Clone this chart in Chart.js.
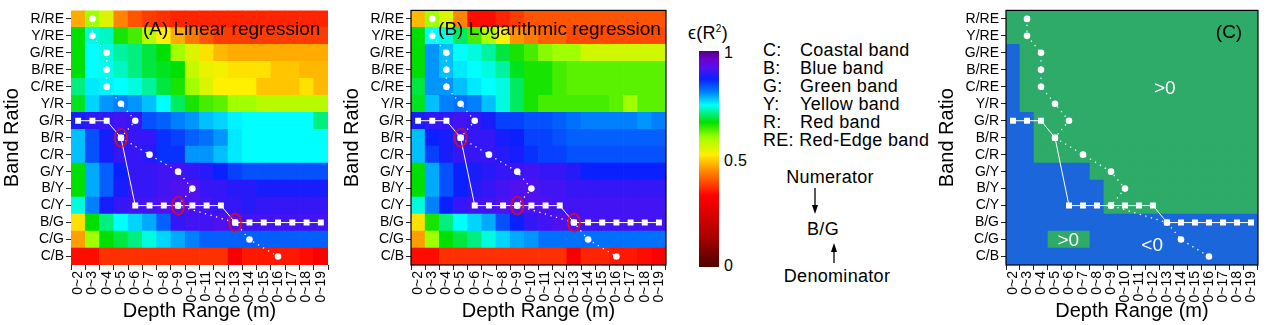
<!DOCTYPE html>
<html>
<head>
<meta charset="utf-8">
<script src="https://cdn.jsdelivr.net/npm/chart.js@4.4.1/dist/chart.umd.min.js"></script>
<style>
  body { margin: 0; background: #fff; font-family: Arial, "Liberation Sans", sans-serif; }
  #wrap { position: relative; width: 1269px; height: 325px; overflow: hidden; }
  canvas { position: absolute; top: 0; }
  .t { position: absolute; white-space: nowrap; color: #000; font-size: 18px; letter-spacing: 0.3px; line-height: 18px; transform: translateY(-50%); }
  .c { transform: translate(-50%, -50%); }
</style>
</head>
<body>
<div id="wrap">
  <canvas id="cA" width="340" height="325" style="left:0"></canvas>
  <canvas id="cB" width="340" height="325" style="left:340px"></canvas>
  <canvas id="cC" width="334" height="325" style="left:935px"></canvas>
  <div id="cbar" style="position:absolute;left:699px;top:51px;width:20px;height:216px"></div>
  <div class="t c" style="left:708px;top:31px">&#1013;(R<sup style="font-size:10px">2</sup>)</div>
  <div class="t" style="left:724px;top:53px;font-size:16px">1</div>
  <div class="t" style="left:724px;top:161px;font-size:16px">0.5</div>
  <div class="t" style="left:724px;top:266px;font-size:16px">0</div>
  <div id="legend"></div>
  <div class="t c" style="left:830px;top:177px">Numerator</div>
  <div class="t c" style="left:823px;top:229px">B/G</div>
  <div class="t c" style="left:837px;top:276px">Denominator</div>
  <svg style="position:absolute;left:0;top:0" width="1269" height="325">
    <line x1="815" y1="188" x2="815" y2="207" stroke="#000" stroke-width="1.3"/>
    <polygon points="812,205 818,205 815,214" fill="#000"/>
    <line x1="834" y1="250" x2="834" y2="263" stroke="#000" stroke-width="1.3"/>
    <polygon points="831,252 837,252 834,243" fill="#000"/>
  </svg>
</div>
<script>
// band ratios, top row first
const ratios = ['R/RE', 'Y/RE', 'G/RE', 'B/RE', 'C/RE', 'Y/R', 'G/R', 'B/R', 'C/R', 'G/Y', 'B/Y', 'C/Y', 'B/G', 'C/G', 'C/B'];
const depths = ['0~2', '0~3', '0~4', '0~5', '0~6', '0~7', '0~8', '0~9', '0~10', '0~11', '0~12', '0~13', '0~14', '0~15', '0~16', '0~17', '0~18', '0~19'];

// best depth range for each band ratio (white circles)
const bestDepth = ['0~3', '0~3', '0~4', '0~4', '0~4', '0~5', '0~6', '0~5', '0~7', '0~9', '0~10', '0~9', '0~13', '0~14', '0~16'];
// best band ratio for each depth range (white squares)
const bestRatio = ['G/R', 'G/R', 'G/R', 'B/R', 'C/Y', 'C/Y', 'C/Y', 'C/Y', 'C/Y', 'C/Y', 'C/Y', 'B/G', 'B/G', 'B/G', 'B/G', 'B/G', 'B/G', 'B/G'];

// (A) linear regression, rows follow ratios
const linR2 = [
  [0.47, 0.60, 0.55, 0.44, 0.40, 0.38, 0.37, 0.36, 0.36, 0.36, 0.36, 0.36, 0.36, 0.36, 0.36, 0.36, 0.36, 0.36],
  [0.67, 0.74, 0.73, 0.66, 0.64, 0.58, 0.52, 0.47, 0.43, 0.40, 0.38, 0.38, 0.38, 0.38, 0.38, 0.38, 0.38, 0.38],
  [0.67, 0.75, 0.74, 0.72, 0.71, 0.69, 0.67, 0.60, 0.55, 0.51, 0.48, 0.47, 0.47, 0.47, 0.47, 0.47, 0.47, 0.47],
  [0.67, 0.75, 0.745, 0.73, 0.71, 0.69, 0.68, 0.67, 0.57, 0.54, 0.53, 0.51, 0.51, 0.51, 0.49, 0.49, 0.48, 0.48],
  [0.71, 0.76, 0.755, 0.75, 0.74, 0.72, 0.69, 0.66, 0.60, 0.55, 0.52, 0.52, 0.52, 0.49, 0.49, 0.49, 0.51, 0.48],
  [0.68, 0.77, 0.80, 0.81, 0.80, 0.78, 0.75, 0.70, 0.66, 0.64, 0.63, 0.60, 0.60, 0.58, 0.58, 0.58, 0.58, 0.58],
  [0.88, 0.90, 0.90, 0.91, 0.90, 0.84, 0.83, 0.81, 0.80, 0.78, 0.77, 0.755, 0.75, 0.75, 0.75, 0.75, 0.75, 0.71],
  [0.78, 0.84, 0.88, 0.90, 0.90, 0.90, 0.86, 0.85, 0.83, 0.82, 0.80, 0.76, 0.75, 0.75, 0.75, 0.75, 0.75, 0.75],
  [0.78, 0.84, 0.88, 0.90, 0.90, 0.89, 0.86, 0.86, 0.80, 0.80, 0.78, 0.76, 0.75, 0.75, 0.75, 0.75, 0.75, 0.75],
  [0.67, 0.79, 0.83, 0.87, 0.90, 0.90, 0.91, 0.91, 0.90, 0.89, 0.87, 0.85, 0.84, 0.84, 0.84, 0.84, 0.84, 0.84],
  [0.67, 0.79, 0.83, 0.88, 0.90, 0.90, 0.91, 0.92, 0.92, 0.90, 0.90, 0.89, 0.89, 0.88, 0.88, 0.88, 0.88, 0.88],
  [0.74, 0.81, 0.88, 0.90, 0.91, 0.91, 0.92, 0.92, 0.92, 0.91, 0.90, 0.90, 0.89, 0.90, 0.90, 0.90, 0.90, 0.90],
  [0.51, 0.67, 0.71, 0.75, 0.77, 0.79, 0.83, 0.90, 0.91, 0.91, 0.92, 0.92, 0.91, 0.91, 0.91, 0.91, 0.91, 0.91],
  [0.46, 0.60, 0.67, 0.69, 0.71, 0.74, 0.77, 0.79, 0.81, 0.83, 0.83, 0.83, 0.83, 0.83, 0.83, 0.83, 0.83, 0.83],
  [0.34, 0.34, 0.37, 0.37, 0.37, 0.37, 0.37, 0.37, 0.37, 0.37, 0.37, 0.31, 0.35, 0.35, 0.35, 0.35, 0.34, 0.32]
];

// (B) logarithmic regression
const logR2 = [
  [0.48, 0.60, 0.55, 0.44, 0.34, 0.34, 0.36, 0.38, 0.40, 0.40, 0.40, 0.40, 0.40, 0.40, 0.40, 0.40, 0.40, 0.40],
  [0.67, 0.75, 0.74, 0.70, 0.64, 0.59, 0.52, 0.45, 0.43, 0.41, 0.41, 0.39, 0.39, 0.39, 0.39, 0.39, 0.39, 0.39],
  [0.67, 0.80, 0.78, 0.75, 0.74, 0.72, 0.69, 0.66, 0.64, 0.61, 0.60, 0.60, 0.56, 0.56, 0.56, 0.56, 0.56, 0.56],
  [0.67, 0.80, 0.78, 0.76, 0.75, 0.74, 0.72, 0.68, 0.66, 0.66, 0.64, 0.63, 0.63, 0.63, 0.63, 0.63, 0.63, 0.63],
  [0.69, 0.80, 0.80, 0.78, 0.76, 0.75, 0.74, 0.70, 0.66, 0.66, 0.64, 0.63, 0.63, 0.63, 0.63, 0.63, 0.63, 0.63],
  [0.68, 0.78, 0.81, 0.82, 0.81, 0.78, 0.74, 0.70, 0.66, 0.64, 0.64, 0.64, 0.64, 0.64, 0.63, 0.60, 0.63, 0.63],
  [0.88, 0.90, 0.90, 0.91, 0.90, 0.88, 0.85, 0.85, 0.84, 0.84, 0.83, 0.82, 0.81, 0.81, 0.81, 0.81, 0.80, 0.81],
  [0.78, 0.87, 0.88, 0.90, 0.90, 0.90, 0.88, 0.87, 0.85, 0.85, 0.84, 0.83, 0.83, 0.83, 0.83, 0.83, 0.83, 0.83],
  [0.78, 0.85, 0.88, 0.90, 0.90, 0.90, 0.89, 0.88, 0.86, 0.85, 0.85, 0.84, 0.84, 0.84, 0.84, 0.84, 0.84, 0.84],
  [0.67, 0.79, 0.84, 0.87, 0.88, 0.89, 0.90, 0.90, 0.91, 0.90, 0.90, 0.89, 0.87, 0.87, 0.87, 0.87, 0.87, 0.87],
  [0.67, 0.79, 0.84, 0.87, 0.89, 0.90, 0.91, 0.92, 0.92, 0.91, 0.91, 0.90, 0.90, 0.90, 0.90, 0.90, 0.90, 0.90],
  [0.74, 0.81, 0.87, 0.90, 0.91, 0.91, 0.92, 0.92, 0.92, 0.92, 0.91, 0.91, 0.91, 0.91, 0.91, 0.91, 0.91, 0.91],
  [0.51, 0.66, 0.71, 0.75, 0.77, 0.79, 0.84, 0.87, 0.90, 0.91, 0.92, 0.92, 0.91, 0.91, 0.91, 0.91, 0.91, 0.91],
  [0.46, 0.60, 0.67, 0.69, 0.71, 0.74, 0.77, 0.79, 0.80, 0.82, 0.82, 0.82, 0.82, 0.82, 0.82, 0.82, 0.82, 0.82],
  [0.34, 0.34, 0.37, 0.37, 0.37, 0.37, 0.37, 0.37, 0.37, 0.37, 0.37, 0.31, 0.36, 0.36, 0.35, 0.35, 0.34, 0.33]
];

// (C) sign of the difference (1 = >0, -1 = <0)
const diffSign = [
  [1, 1, 1, 1, 1, 1, 1, 1, 1, 1, 1, 1, 1, 1, 1, 1, 1, 1],
  [1, 1, 1, 1, 1, 1, 1, 1, 1, 1, 1, 1, 1, 1, 1, 1, 1, 1],
  [-1, 1, 1, 1, 1, 1, 1, 1, 1, 1, 1, 1, 1, 1, 1, 1, 1, 1],
  [-1, 1, 1, 1, 1, 1, 1, 1, 1, 1, 1, 1, 1, 1, 1, 1, 1, 1],
  [-1, 1, 1, 1, 1, 1, 1, 1, 1, 1, 1, 1, 1, 1, 1, 1, 1, 1],
  [-1, 1, 1, 1, 1, 1, 1, 1, 1, 1, 1, 1, 1, 1, 1, 1, 1, 1],
  [-1, -1, 1, 1, 1, 1, 1, 1, 1, 1, 1, 1, 1, 1, 1, 1, 1, 1],
  [-1, -1, 1, 1, 1, 1, 1, 1, 1, 1, 1, 1, 1, 1, 1, 1, 1, 1],
  [-1, -1, 1, 1, 1, 1, 1, 1, 1, 1, 1, 1, 1, 1, 1, 1, 1, 1],
  [-1, -1, -1, -1, -1, -1, 1, 1, 1, 1, 1, 1, 1, 1, 1, 1, 1, 1],
  [-1, -1, -1, -1, -1, -1, -1, 1, 1, 1, 1, 1, 1, 1, 1, 1, 1, 1],
  [-1, -1, -1, -1, -1, -1, -1, 1, 1, 1, 1, 1, 1, 1, 1, 1, 1, 1],
  [-1, -1, -1, -1, -1, -1, -1, -1, -1, -1, -1, -1, -1, -1, -1, -1, -1, -1],
  [-1, -1, -1, 1, 1, 1, -1, -1, -1, -1, -1, -1, -1, -1, -1, -1, -1, -1],
  [-1, -1, -1, -1, -1, -1, -1, -1, -1, -1, -1, -1, -1, -1, -1, -1, -1, -1]
];

const bandKeys = ['C:', 'B:', 'G:', 'Y:', 'R:', 'RE:'];
const bandNames = ['Coastal band', 'Blue band', 'Green band', 'Yellow band', 'Red band', 'Red-Edge band'];

// rainbow colour map
const cmapStops = [0, 0.15, 0.33, 0.45, 0.52, 0.60, 0.67, 0.75, 0.81, 0.87, 0.92, 0.96, 1];
const cmapColors = ['#500000', '#b00000', '#ff0000', '#ff9000', '#ffef00', '#a0ff00', '#00e000', '#00ffff', '#0080ff', '#0a20ff', '#5010f0', '#7000d0', '#500080'];

const hex = (h) => [1, 3, 5].map((i) => parseInt(h.substr(i, 2), 16));
function cmap(v) {
  for (let i = 1; i < cmapStops.length; i++) {
    if (v <= cmapStops[i]) {
      const t = (v - cmapStops[i - 1]) / (cmapStops[i] - cmapStops[i - 1]);
      const a = hex(cmapColors[i - 1]), b = hex(cmapColors[i]);
      const c = a.map((x, k) => Math.round(x + (b[k] - x) * t));
      return 'rgb(' + c.join(',') + ')';
    }
  }
  return cmapColors[cmapColors.length - 1];
}
const signColor = (s) => (s > 0 ? '#2eaa69' : '#1c66dc');

// colour bar and legend text
document.getElementById('cbar').style.background =
  'linear-gradient(to top,' + cmapStops.map((s, i) => cmapColors[i] + ' ' + s * 100 + '%').join(',') + ')';
const leg = document.getElementById('legend');
bandKeys.forEach((k, i) => {
  const y = 50 + i * 18;
  if (k === 'RE:') {
    leg.innerHTML += '<div class="t" style="left:763px;top:' + y + 'px">' + k + ' ' + bandNames[i] + '</div>';
  } else {
    leg.innerHTML += '<div class="t" style="left:763px;top:' + y + 'px">' + k + '</div>' +
      '<div class="t" style="left:800px;top:' + y + 'px">' + bandNames[i] + '</div>';
  }
});

const rowY = (r) => ratios.length - 1 - r + 0.5;

function ellipseMarker() {
  const c = document.createElement('canvas');
  c.width = 16; c.height = 22;
  const g = c.getContext('2d');
  g.strokeStyle = '#e0101e';
  g.lineWidth = 1.7;
  g.beginPath();
  g.ellipse(8, 11, 6, 9, 0, 0, Math.PI * 2);
  g.stroke();
  return c;
}

const panelDeco = {
  id: 'panelDeco',
  afterDatasetsDraw(chart, args, opts) {
    const { ctx, chartArea: a } = chart;
    ctx.save();
    if (opts.border) {
      ctx.strokeStyle = '#000';
      ctx.lineWidth = 1.2;
      ctx.strokeRect(a.left, a.top, a.width, a.height);
    }
    (opts.texts || []).forEach((t) => {
      ctx.font = '19px Arial, "Liberation Sans", sans-serif';
      ctx.fillStyle = t.color;
      ctx.textAlign = 'center';
      ctx.textBaseline = 'middle';
      ctx.fillText(t.text, a.left + t.fx * a.width, a.top + t.fy * a.height);
    });
    ctx.restore();
  }
};

function heatChart(id, matrix, colorFn, showRed, deco) {
  const datasets = [];
  for (let r = ratios.length - 1; r >= 0; r--) {
    datasets.push({
      type: 'bar',
      label: ratios[r],
      data: depths.map(() => 1),
      backgroundColor: matrix[r].map(colorFn),
      borderWidth: 0,
      barPercentage: 1,
      categoryPercentage: 1,
      order: 10,
      yAxisID: 'y'
    });
  }
  datasets.push({
    type: 'line',
    data: ratios.map((rt, r) => ({ x: bestDepth[r], y: rowY(r) })),
    yAxisID: 'yo',
    borderColor: '#fff',
    borderWidth: 1.3,
    borderDash: [1.3, 4.5],
    pointRadius: 3.3,
    pointBackgroundColor: '#fff',
    pointBorderWidth: 0,
    order: 2
  });
  datasets.push({
    type: 'line',
    data: depths.map((d, i) => ({ x: d, y: rowY(ratios.indexOf(bestRatio[i])) })),
    yAxisID: 'yo',
    borderColor: '#fff',
    borderWidth: 1,
    pointStyle: 'rect',
    pointRadius: 4.2,
    pointBackgroundColor: '#fff',
    pointBorderWidth: 0,
    order: 1
  });
  if (showRed) {
    const hits = [];
    depths.forEach((d, i) => {
      const r = ratios.indexOf(bestRatio[i]);
      if (bestDepth[r] === d) hits.push({ x: d, y: rowY(r) });
    });
    datasets.push({
      type: 'line',
      data: hits,
      yAxisID: 'yo',
      showLine: false,
      pointStyle: ellipseMarker(),
      pointRadius: 8,
      order: 0
    });
  }
  const font = { family: 'Arial, "Liberation Sans", sans-serif', size: 14 };
  return new Chart(document.getElementById(id), {
    data: { labels: depths, datasets: datasets },
    options: {
      responsive: false,
      animation: false,
      devicePixelRatio: 1,
      events: [],
      layout: { padding: { top: 8, right: deco.right, left: 0, bottom: 0 } },
      plugins: { legend: { display: false }, tooltip: { enabled: false }, panelDeco: deco },
      scales: {
        x: {
          type: 'category',
          stacked: true,
          offset: true,
          afterFit: (s) => { s.height = 60; },
          border: { display: false },
          grid: { drawOnChartArea: false, tickLength: 5, color: '#222' },
          ticks: { minRotation: 90, maxRotation: 90, autoSkip: false, padding: 1, color: '#000', font: font },
          title: { display: true, text: 'Depth Range (m)', color: '#000', font: { family: font.family, size: 20 }, padding: { top: 0, bottom: 2 } }
        },
        y: {
          type: 'linear',
          stacked: true,
          min: 0,
          max: ratios.length,
          afterFit: (s) => { s.width = 71; },
          afterBuildTicks: (ax) => { ax.ticks = ratios.map((_, i) => ({ value: i + 0.5 })); },
          border: { display: false },
          grid: { drawOnChartArea: false, tickLength: 5, color: '#222' },
          ticks: { autoSkip: false, padding: 2, color: '#000', font: font, callback: (v) => ratios[ratios.length - 1 - Math.floor(v)] },
          title: { display: true, text: 'Band Ratio', color: '#000', font: { family: font.family, size: 20 }, padding: { top: 0, bottom: 0 } }
        },
        yo: { type: 'linear', display: false, min: 0, max: ratios.length }
      }
    },
    plugins: [panelDeco]
  });
}

heatChart('cA', linR2, cmap, true, {
  right: 12, border: false,
  texts: [{ text: '(A) Linear regression', fx: 0.625, fy: 0.078, color: '#000' }]
});
heatChart('cB', logR2, cmap, true, {
  right: 14, border: true,
  texts: [{ text: '(B) Logarithmic regression', fx: 0.543, fy: 0.078, color: '#000' }]
});
heatChart('cC', diffSign, signColor, false, {
  right: 8, border: true,
  texts: [
    { text: '(C)', fx: 0.885, fy: 0.086, color: '#000' },
    { text: '>0', fx: 0.63, fy: 0.306, color: '#fff' },
    { text: '>0', fx: 0.247, fy: 0.906, color: '#fff' },
    { text: '<0', fx: 0.58, fy: 0.925, color: '#fff' }
  ]
});
</script>
</body>
</html>
